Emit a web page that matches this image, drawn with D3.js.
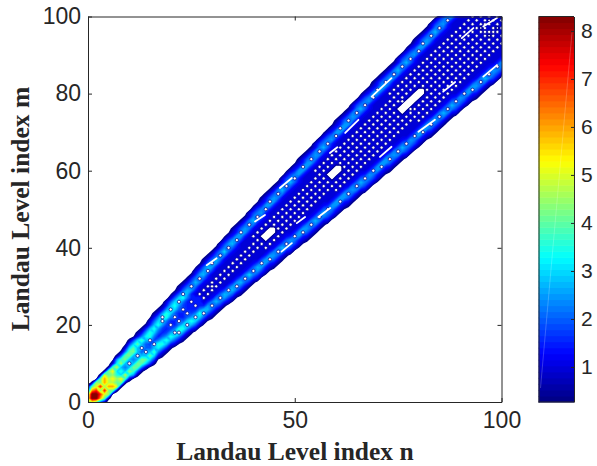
<!DOCTYPE html>
<html>
<head>
<meta charset="utf-8">
<script src="https://cdn.jsdelivr.net/npm/d3@7"></script>
<style>
  html, body { margin: 0; padding: 0; background: #fff; }
  svg { display: block; }
  .tick text { font-family: "Liberation Sans", Arial, sans-serif; fill: #262626; }
  .axis path, .axis line { stroke: #262626; }
  .label { font-family: "Liberation Serif", "Times New Roman", serif; font-weight: bold; fill: #262626; }
</style>
</head>
<body>
<script>
// tick labels
var xTicks = [0, 50, 100];
var yTicks = [0, 20, 40, 60, 80, 100];
var barTicks = [1, 2, 3, 4, 5, 6, 7, 8];
var barRange = [0.27, 8.3];
var levelCount = 64;

// jet colormap stops
var jetPos = [0, 0.125, 0.375, 0.625, 0.875, 1];
var jetColors = ["#000080", "#0000ff", "#00ffff", "#ffff00", "#ff0000", "#800000"];

// matrix values for m >= n, one string per m, last char is the diagonal n = m.
// each char is base 36, in steps of 0.25. "." is a small white hole in the contours.
// the matrix is symmetric
var rows = [
  "k", "ky", "gyy", "8osg", "3gkti", "2ihoj", "1gojl", "2kgie", "2hlce", "2fjb9",
  "4dib.", "1afhb9", "28ghb.", "29ghb8", "4cgb.8", "17cgb87", "27cfb.7",
  "159de96", "25aec86", "26bea76", "26bea7.", "48c.966",
  "159.e9.6", "25aec866", "25a.c8.6", "26bea766", "48c.96.6", "48ce9666",
  "148.b64.4", "148ba64.4", "258.954..", "258b954.4", "269.854.4", "26ab744.4", "47a.744.4",
  "148ba644.4", "148.a644.4", "258b9544.4", "258.9544.4", "269c8544.4", "269.8544.4", "47ab7444.4", "47a.7444.4",
  "146aa64.400", "146.a64.400", "258a954.400", "258.954.4.4", "259b854.4.4", "259.854.4.4", "479a644.4.4", "479.644.4.4",
  "146aa644.4.4", "146.a644.4.4", "258a9544.4.4", "258.9544.4.4", "259b8544.4.4", "259.8544.4.4", "259b8544.4.4", "479.6444.4.4", "479a6444.400",
  "146aa64.4.400", "146.a64.4.400", "146aa64.4.4.4", "258.954.4.4.4", "258a954.4.4.4", "259.854.4.4.4", "259b854.4.4.4", "479.644.4.4.4", "479a644.4.4.4", "479.644.4.4.4",
  "146aa644.4.4.4", "146.a644.4.4.4", "146aa644.4.4.4", "258.9544.4.4.4", "258a9544.4.4.4", "259.8544.4.4.4", "259b8544.4.400", "479.6444.4.400", "479a6444.4..00", "479.6444.4.400",
  "146aa64.4.4.400", "146.a64.4.4.400", "146aa64.4.4.4.4", "258.954.4.4.4.4", "258a954.4.4.4.4", "258.954.4.4.4.4", "259b854.4.4.4.4", "259.854.4.4.4.4", "259b854.4.4.4.4", "479.644.4.4.4.4", "479a644.4.4.4.4", "479.644.4.4.4.4",
  "146aa644.4.4.4.4", "146.a644.4.4.4.4", "258a9544.4.4.4.4", "258.9544.4.4.4.4", "259b8544.4.4.4..", "259.8544.4.4.0.4", "479a6444.4.4...4", "479.6444.4.4.0.4", "479a6444.4.4.4.4"
];

// white gaps along the ridges, n1, m1, n2, m2
var gapN1 = [68.6, 46.4, 79.9, 55.7, 95.6, 62.2, 50.5, 58.5, 70.6, 85.9, 90.4, 95.6, 40.4, 28.7, 46.8];
var gapM1 = [79.2, 55.5, 70.1, 48.0, 84.4, 69.8, 46.4, 64.6, 63.6, 80.5, 94.4, 97.4, 46.8, 35.5, 39.0];
var gapN2 = [73.4, 49.3, 83.9, 58.6, 98.9, 65.4, 52.5, 60.3, 73.4, 88.8, 93.2, 98.9, 42.8, 31.1, 49.3];
var gapM2 = [84.0, 58.1, 73.2, 50.3, 87.4, 73.2, 48.0, 66.1, 66.2, 83.0, 97.0, 99.6, 48.5, 37.3, 41.2];

function charValue(ch) {
  return ch === undefined || ch === "." ? 0 : parseInt(ch, 36) * 0.25;
}

// the matrix for the contours and the list of holes
function parseRows() {
  var size = rows.length;
  var grid = d3.range(size * size).map(function() { return 0; });
  var holes = [];
  rows.forEach(function(row, m) {
    for (var k = 0; k < row.length; k++) {
      var n = m - (row.length - 1 - k);
      var value = charValue(row[k]);
      if (row[k] === ".") {
        // the contour under a hole carries on from its neighbours
        value = Math.max(charValue(row[k - 1]), charValue(row[k + 1]), 1);
        holes.push({n: n, m: m});
        if (n !== m) holes.push({n: m, m: n});
      }
      grid[m * size + n] = value;
      grid[n * size + m] = value;
    }
  });
  return {size: size, values: grid, holes: holes};
}

function makeChart() {
  var width = 597, height = 466;
  var left = 88, right = 501.5, top = 16.5, bottom = 402;
  var barLeft = 538.5, barRight = 574;

  var svg = d3.select("body").append("svg")
    .attr("width", width)
    .attr("height", height);

  var x = d3.scaleLinear().domain([0, 100]).range([left, right]);
  var y = d3.scaleLinear().domain([0, 100]).range([bottom, top]);
  var barY = d3.scaleLinear().domain(barRange).range([bottom, top]);
  var jet = d3.scaleLinear().domain(jetPos).range(jetColors).interpolate(d3.interpolateRgb);

  var step = (barRange[1] - barRange[0]) / levelCount;
  var levels = d3.range(levelCount).map(function(i) { return barRange[0] + i * step; });
  function levelColor(level) {
    return jet((level + step / 2 - barRange[0]) / (barRange[1] - barRange[0]));
  }

  svg.append("clipPath").attr("id", "plot-clip")
    .append("rect")
    .attr("x", left).attr("y", top)
    .attr("width", right - left).attr("height", bottom - top);

  // contours
  var matrix = parseRows();
  var contours = d3.contours()
    .size([matrix.size, matrix.size])
    .thresholds(levels);

  var path = d3.geoPath(d3.geoTransform({
    point: function(px, py) {
      this.stream.point(x(px - 0.5), y(py - 0.5));
    }
  }));

  var plot = svg.append("g").attr("clip-path", "url(#plot-clip)");
  plot.selectAll("path")
    .data(contours(matrix.values))
    .enter().append("path")
      .attr("d", path)
      .attr("fill", function(d) { return levelColor(d.value); });

  plot.selectAll("circle")
    .data(matrix.holes)
    .enter().append("circle")
      .attr("cx", function(d) { return x(d.n); })
      .attr("cy", function(d) { return y(d.m); })
      .attr("r", 1.6)
      .attr("fill", "#fff")
      .attr("stroke", "#00008c")
      .attr("stroke-width", 0.7);

  plot.selectAll("line")
    .data(gapN1)
    .enter().append("line")
      .attr("x1", function(d) { return x(d); })
      .attr("y1", function(d, i) { return y(gapM1[i]); })
      .attr("x2", function(d, i) { return x(gapN2[i]); })
      .attr("y2", function(d, i) { return y(gapM2[i]); })
      .attr("stroke", "#fff")
      .attr("stroke-width", 1.8)
      .attr("stroke-linecap", "round");

  // axes, box on so ticks are on all sides
  function addAxis(axis, tx, ty) {
    var g = svg.append("g")
      .attr("class", "axis")
      .attr("transform", "translate(" + tx + "," + ty + ")")
      .call(axis);
    g.selectAll("path, line").attr("stroke-width", 1);
    return g;
  }

  addAxis(d3.axisBottom(x).tickValues(xTicks).tickSizeInner(-4).tickSizeOuter(0).tickPadding(10), 0, bottom)
    .selectAll("text").style("font-size", "23px");
  addAxis(d3.axisLeft(y).tickValues(yTicks).tickSizeInner(-4).tickSizeOuter(0).tickPadding(7), left, 0)
    .selectAll("text").style("font-size", "23px");
  addAxis(d3.axisTop(x).tickValues(xTicks).tickSizeInner(-4).tickSizeOuter(0).tickFormat(""), 0, top);
  addAxis(d3.axisRight(y).tickValues(yTicks).tickSizeInner(-4).tickSizeOuter(0).tickFormat(""), right, 0);

  // colorbar
  var bar = svg.append("g");
  bar.selectAll("rect")
    .data(levels)
    .enter().append("rect")
      .attr("x", barLeft)
      .attr("width", barRight - barLeft)
      .attr("y", function(d) { return barY(d + step); })
      .attr("height", function(d) { return barY(d) - barY(d + step) + 0.5; })
      .attr("fill", levelColor);

  bar.append("line")
    .attr("x1", barLeft + 2).attr("y1", bottom - 14)
    .attr("x2", barRight - 2).attr("y2", top + 16)
    .attr("stroke", "#fff").attr("stroke-opacity", 0.3).attr("stroke-width", 0.7);

  addAxis(d3.axisRight(barY).tickValues(barTicks).tickFormat(d3.format("d")).tickSizeInner(-3).tickSizeOuter(0).tickPadding(7), barRight, 0)
    .selectAll("text").style("font-size", "21px");
  addAxis(d3.axisLeft(barY).tickValues([]).tickSizeOuter(0), barLeft, 0);
  svg.append("line").attr("x1", barLeft).attr("x2", barRight).attr("y1", top).attr("y2", top).attr("stroke", "#262626");
  svg.append("line").attr("x1", barLeft).attr("x2", barRight).attr("y1", bottom).attr("y2", bottom).attr("stroke", "#262626");

  // axis labels
  svg.append("text")
    .attr("class", "label")
    .attr("x", 295).attr("y", 460)
    .attr("text-anchor", "middle")
    .style("font-size", "25.5px")
    .text("Landau Level index n");

  svg.append("text")
    .attr("class", "label")
    .attr("transform", "translate(29,209) rotate(-90)")
    .attr("text-anchor", "middle")
    .style("font-size", "25.5px")
    .text("Landau Level index m");
}

window.onload = function() {
  makeChart();
};
</script>
</body>
</html>
